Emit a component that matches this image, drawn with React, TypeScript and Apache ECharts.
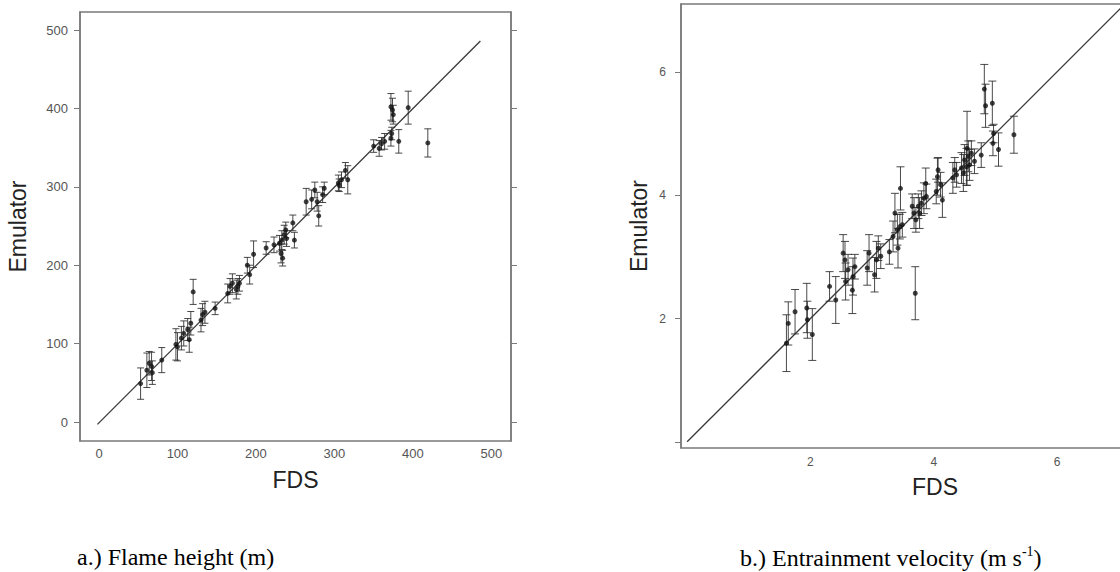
import React, { useEffect, useRef } from "react";
import * as echarts from "echarts";

// ---------- Data ----------
// Panel a: flame height (m)
const flameFds = [53, 61, 64, 67, 68, 80, 98, 100, 105, 108, 113, 115, 117, 120, 130, 132, 135, 148, 164, 167, 170, 175, 177, 179, 192, 189, 197, 213, 223, 230, 232, 234, 233, 236, 238, 239, 247, 249, 264, 271, 275, 280, 278, 285, 287, 305, 306, 309, 314, 317, 350, 357, 360, 364, 372, 373, 372, 374, 375, 382, 394, 419];
const flameEmu = [49, 66, 75, 71, 63, 79, 99, 96, 107, 113, 118, 105, 126, 166, 130, 137, 140, 145, 164, 173, 177, 169, 173, 177, 188, 200, 214, 222, 226, 228, 215, 209, 232, 239, 245, 234, 254, 232, 281, 284, 296, 263, 281, 290, 298, 305, 302, 309, 321, 309, 352, 349, 355, 358, 362, 368, 402, 398, 392, 358, 401, 356];
const flameErr = [20, 22, 15, 18, 15, 16, 20, 18, 15, 16, 14, 16, 15, 16, 15, 14, 14, 8, 12, 10, 12, 12, 10, 10, 12, 10, 17, 8, 10, 10, 12, 10, 12, 12, 10, 10, 10, 10, 17, 12, 10, 13, 12, 10, 8, 10, 8, 10, 10, 18, 8, 10, 8, 10, 10, 8, 17, 15, 12, 15, 21, 18];
const flameTicks = [0, 100, 200, 300, 400, 500];
const flameLine = [[-2, -3], [486, 486]];

// Panel b: entrainment velocity (m s-1)
const velFds = [1.61, 1.64, 1.75, 1.94, 1.95, 2.03, 2.31, 2.41, 2.53, 2.56, 2.57, 2.61, 2.68, 2.69, 2.72, 2.92, 2.95, 3.04, 3.07, 3.10, 3.14, 3.28, 3.34, 3.37, 3.41, 3.42, 3.45, 3.46, 3.49, 3.65, 3.68, 3.71, 3.70, 3.75, 3.77, 3.80, 3.84, 3.87, 3.88, 4.04, 4.06, 4.07, 4.11, 4.14, 4.31, 4.34, 4.37, 4.45, 4.48, 4.50, 4.53, 4.54, 4.56, 4.58, 4.61, 4.66, 4.77, 4.82, 4.84, 4.95, 4.96, 5.05, 5.30, 4.97];
const velEmu = [1.60, 1.92, 2.11, 2.17, 1.98, 1.74, 2.52, 2.30, 3.06, 2.95, 2.60, 2.79, 2.46, 2.68, 2.84, 2.82, 3.06, 2.71, 2.95, 3.14, 3.01, 3.08, 3.33, 3.71, 3.44, 3.14, 3.49, 4.11, 3.52, 3.82, 3.71, 3.60, 2.41, 3.82, 3.71, 3.87, 3.95, 4.19, 3.98, 4.06, 4.30, 4.41, 4.17, 3.92, 4.28, 4.41, 4.33, 4.44, 4.36, 4.57, 4.46, 4.76, 4.63, 4.49, 4.68, 4.55, 4.65, 5.72, 5.45, 5.49, 4.84, 4.74, 4.98, 5.00];
const velErr = [0.46, 0.35, 0.36, 0.4, 0.3, 0.42, 0.24, 0.38, 0.3, 0.3, 0.3, 0.25, 0.38, 0.3, 0.2, 0.28, 0.3, 0.28, 0.3, 0.2, 0.2, 0.2, 0.25, 0.32, 0.25, 0.32, 0.2, 0.35, 0.2, 0.2, 0.25, 0.2, 0.43, 0.2, 0.25, 0.2, 0.25, 0.25, 0.2, 0.2, 0.3, 0.2, 0.2, 0.28, 0.25, 0.2, 0.2, 0.25, 0.3, 0.25, 0.3, 0.6, 0.25, 0.25, 0.2, 0.2, 0.2, 0.4, 0.35, 0.36, 0.2, 0.27, 0.3, 0.15];
const velXTicks = [2, 4, 6];
const velYTicks = [0, 2, 4, 6];
const velYLabels = [2, 4, 6];
const velLine = [[0, 0], [7.3, 7.3]];

const captionA = "a.) Flame height (m)";
const captionB = "b.) Entrainment velocity (m s";

const SANS = "'Liberation Sans', Arial, Helvetica, sans-serif";
const SERIF = "'Liberation Serif', 'Times New Roman', serif";

function errRender(capHalf: number) {
  return (params: any, api: any) => {
    const x = api.value(0);
    const lo = api.value(1);
    const hi = api.value(2);
    const a = api.coord([x, lo]);
    const b = api.coord([x, hi]);
    const style = { stroke: "#2a2a2a", lineWidth: 1, opacity: 0.85 };
    return {
      type: "group",
      children: [
        { type: "line", shape: { x1: a[0], y1: a[1], x2: b[0], y2: b[1] }, style },
        { type: "line", shape: { x1: a[0] - capHalf, y1: a[1], x2: a[0] + capHalf, y2: a[1] }, style },
        { type: "line", shape: { x1: b[0] - capHalf, y1: b[1], x2: b[0] + capHalf, y2: b[1] }, style },
      ],
    };
  };
}

export default function App() {
  const ref = useRef<HTMLDivElement>(null);

  useEffect(() => {
    if (!ref.current) return;
    const chart = echarts.init(ref.current, null, { renderer: "svg" });

    const flamePts = flameFds.map((x, i) => [x, flameEmu[i]]);
    const flameBars = flameFds.map((x, i) => [x, flameEmu[i] - flameErr[i], flameEmu[i] + flameErr[i]]);
    const velPts = velFds.map((x, i) => [x, velEmu[i]]);
    const velBars = velFds.map((x, i) => [x, velEmu[i] - velErr[i], velEmu[i] + velErr[i]]);

    const boxColor = "#7a7a7a";
    const labelColor = "#555";
    const titleStyle = { fontFamily: SANS, fontSize: 23, color: "#222" };

    const option: any = {
      animation: false,
      backgroundColor: "#fff",
      grid: [
        { left: 80, top: 12, width: 431, height: 429, show: true, borderColor: boxColor, borderWidth: 1.5, backgroundColor: "transparent" },
        { left: 681, top: 4, width: 508, height: 444, show: true, borderColor: boxColor, borderWidth: 1.5, backgroundColor: "transparent" },
      ],
      xAxis: [
        {
          type: "value", gridIndex: 0, min: -24.2, max: 525,
          axisLine: { show: false, onZero: false },
          axisTick: { show: false },
          splitLine: { show: false },
          axisLabel: { customValues: flameTicks, fontFamily: SANS, fontSize: 13, color: labelColor, margin: 6 },
          name: "FDS", nameLocation: "middle", nameGap: 27, nameTextStyle: titleStyle,
        },
        {
          type: "value", gridIndex: 1, min: -0.1, max: 8.14,
          axisLine: { show: false, onZero: false },
          axisTick: { show: false },
          splitLine: { show: false },
          axisLabel: { customValues: velXTicks, fontFamily: SANS, fontSize: 12, color: labelColor, margin: 8 },
          name: "FDS", nameLocation: "middle", nameGap: 27, nameTextStyle: titleStyle,
        },
      ],
      yAxis: [
        {
          type: "value", gridIndex: 0, min: -24.2, max: 523,
          axisLine: { show: true, onZero: false, lineStyle: { color: boxColor, width: 1.5 } },
          axisTick: { show: true, customValues: flameTicks, length: 6, inside: false, lineStyle: { color: boxColor } },
          splitLine: { show: false },
          axisLabel: { customValues: flameTicks, fontFamily: SANS, fontSize: 13, color: labelColor, margin: 12 },
          name: "Emulator", nameLocation: "middle", nameGap: 51, nameTextStyle: titleStyle,
        },
        {
          type: "value", gridIndex: 0, min: -24.2, max: 523, position: "right",
          axisLine: { show: true, onZero: false, lineStyle: { color: boxColor, width: 1.5 } },
          axisTick: { show: true, customValues: flameTicks, length: 6, inside: false, lineStyle: { color: boxColor } },
          splitLine: { show: false },
          axisLabel: { show: false },
        },
        {
          type: "value", gridIndex: 1, min: -0.1, max: 7.1,
          axisLine: { show: true, onZero: false, lineStyle: { color: boxColor, width: 1.5 } },
          axisTick: { show: true, customValues: velYTicks, length: 6, inside: false, lineStyle: { color: boxColor } },
          splitLine: { show: false },
          axisLabel: { customValues: velYLabels, fontFamily: SANS, fontSize: 12, color: labelColor, margin: 15 },
          name: "Emulator", nameLocation: "middle", nameGap: 31, nameTextStyle: titleStyle,
        },
      ],
      series: [
        {
          type: "line", xAxisIndex: 0, yAxisIndex: 0, data: flameLine, symbol: "none",
          lineStyle: { color: "#3a3a3a", width: 1.3 }, silent: true, z: 1,
        },
        {
          type: "custom", xAxisIndex: 0, yAxisIndex: 0, data: flameBars,
          renderItem: errRender(3.5), encode: { x: 0, y: [1, 2] }, z: 2,
        },
        {
          type: "scatter", xAxisIndex: 0, yAxisIndex: 0, data: flamePts,
          symbol: "circle", symbolSize: 5, itemStyle: { color: "#111" }, z: 3,
        },
        {
          type: "line", xAxisIndex: 1, yAxisIndex: 2, data: velLine, symbol: "none", clip: true,
          lineStyle: { color: "#3a3a3a", width: 1.3 }, silent: true, z: 1,
        },
        {
          type: "custom", xAxisIndex: 1, yAxisIndex: 2, data: velBars,
          renderItem: errRender(4), encode: { x: 0, y: [1, 2] }, z: 2,
        },
        {
          type: "scatter", xAxisIndex: 1, yAxisIndex: 2, data: velPts,
          symbol: "circle", symbolSize: 5, itemStyle: { color: "#111" }, z: 3,
        },
      ],
      graphic: [
        {
          type: "text", left: 77, top: 545,
          style: { text: captionA, font: `24px ${SERIF}`, fill: "#000" },
        },
        {
          type: "text", left: 740, top: 544,
          style: {
            text: `{n|${captionB}}{s|-1}{n|)}`,
            fill: "#000",
            rich: {
              n: { fontFamily: SERIF, fontSize: 24, lineHeight: 27, fill: "#000" },
              s: { fontFamily: SERIF, fontSize: 14, verticalAlign: "top", fill: "#000" },
            },
          },
        },
      ],
    };

    chart.setOption(option);
    return () => chart.dispose();
  }, []);

  return (
    <div style={{ position: "absolute", left: 0, top: 0, width: 1120, height: 572, overflow: "hidden", background: "#fff" }}>
      <div ref={ref} style={{ width: 1200, height: 572 }} />
    </div>
  );
}
